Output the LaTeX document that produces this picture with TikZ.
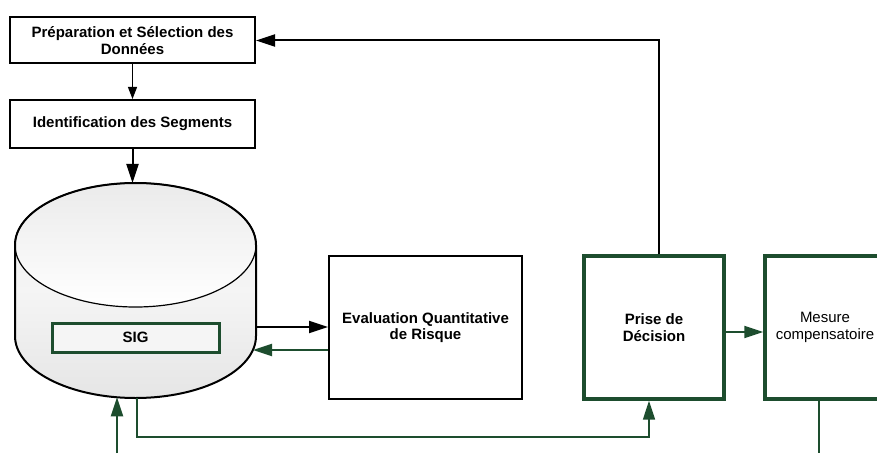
\documentclass[tikz,border=0pt]{standalone}
\usepackage{fontspec}
\setmainfont{Liberation Sans}
\usetikzlibrary{arrows.meta}
\definecolor{dkgreen}{HTML}{1D4D2E}
\begin{document}
\begin{tikzpicture}[x=1pt,y=1pt,
  box/.style={draw=black, line width=2pt, fill=white, align=center, inner sep=0pt,
              font=\bfseries\fontsize{15}{16.5}\selectfont},
  gbox/.style={box, draw=dkgreen, line width=3.4pt},
  arr/.style={draw=black, line width=2pt, -{Triangle[length=19pt,width=12pt]}},
  thinarr/.style={draw=black, line width=1pt, -{Triangle[length=12pt,width=9pt]}},
  garr/.style={draw=dkgreen, line width=2pt, -{Triangle[length=19pt,width=12pt]}},
  gline/.style={draw=dkgreen, line width=1.8pt}
]
\useasboundingbox (0,0) rectangle (877,453);
\clip (0,0) rectangle (877,453);

% upper chain
\node[box, minimum width=245pt, minimum height=46pt] (prep) at (132.5,412.5)
  {Préparation et Sélection des\\Données};
\node[box, minimum width=245pt, minimum height=48pt] (ident) at (132.5,329)
  {Identification des Segments};

% database cylinder
\path[top color=gray!14, bottom color=gray!20, middle color=gray!8]
  (15,208) -- (15,117) arc[start angle=180, end angle=360, x radius=120.5, y radius=62]
  -- (256,208) arc[start angle=0, end angle=180, x radius=120.5, y radius=62] -- cycle;
\path[draw=black, line width=1.2pt, top color=gray!16, bottom color=white]
  (135.5,208) ellipse [x radius=120.5, y radius=62];
\draw[line width=2pt]
  (15,117) -- (15,208) arc[start angle=180, end angle=0, x radius=120.5, y radius=62]
  -- (256,117) arc[start angle=0, end angle=-180, x radius=120.5, y radius=62];
\node[box, draw=dkgreen, line width=3pt, fill=gray!8, minimum width=167pt, minimum height=29pt]
  (sig) at (135.5,115.5) {SIG};

\coordinate (dbtop) at (135.5,270);
\coordinate (dbout) at (256,126);
\coordinate (dbin)  at (253,103);
\coordinate (dbb1)  at (117,55.7);
\coordinate (dbb2)  at (137,55);
\coordinate (feed)  at (117,0);
\coordinate (low)   at (0,16);
\coordinate (mout)  at (819,0);

% right-hand blocks
\node[box, minimum width=193pt, minimum height=143pt] (eval) at (425.5,125.5)
  {Evaluation Quantitative\\de Risque};
\node[gbox, minimum width=140pt, minimum height=143pt] (prise) at (654,125.5)
  {Prise de\\Décision};
\node[gbox, minimum width=120pt, minimum height=143pt, font=\fontsize{15}{16.5}\selectfont]
  (mesure) at (825,125.5) {Mesure\\compensatoire};

\coordinate (pin) at ([xshift=-5pt]prise.south);

% connectors
\draw[thinarr] (prep) -- (ident);
\draw[arr] (ident.south) -- (ident.south |- dbtop);
\draw[arr] (dbout) -- (eval.west |- dbout);
\draw[garr] (eval.west |- dbin) -- (dbin);
\draw[garr] ([yshift=-4.5pt]prise.east) -- ([yshift=-4.5pt]mesure.west);
\draw[arr] ([xshift=5pt]prise.north) |- (prep.east);
\draw[garr, line width=1.6pt] (dbb2) -- (dbb2 |- low) -| (pin);
\draw[garr] (feed) -- (dbb1);
\draw[gline] (mesure.south -| mout) -- (mout);
\end{tikzpicture}
\end{document}
